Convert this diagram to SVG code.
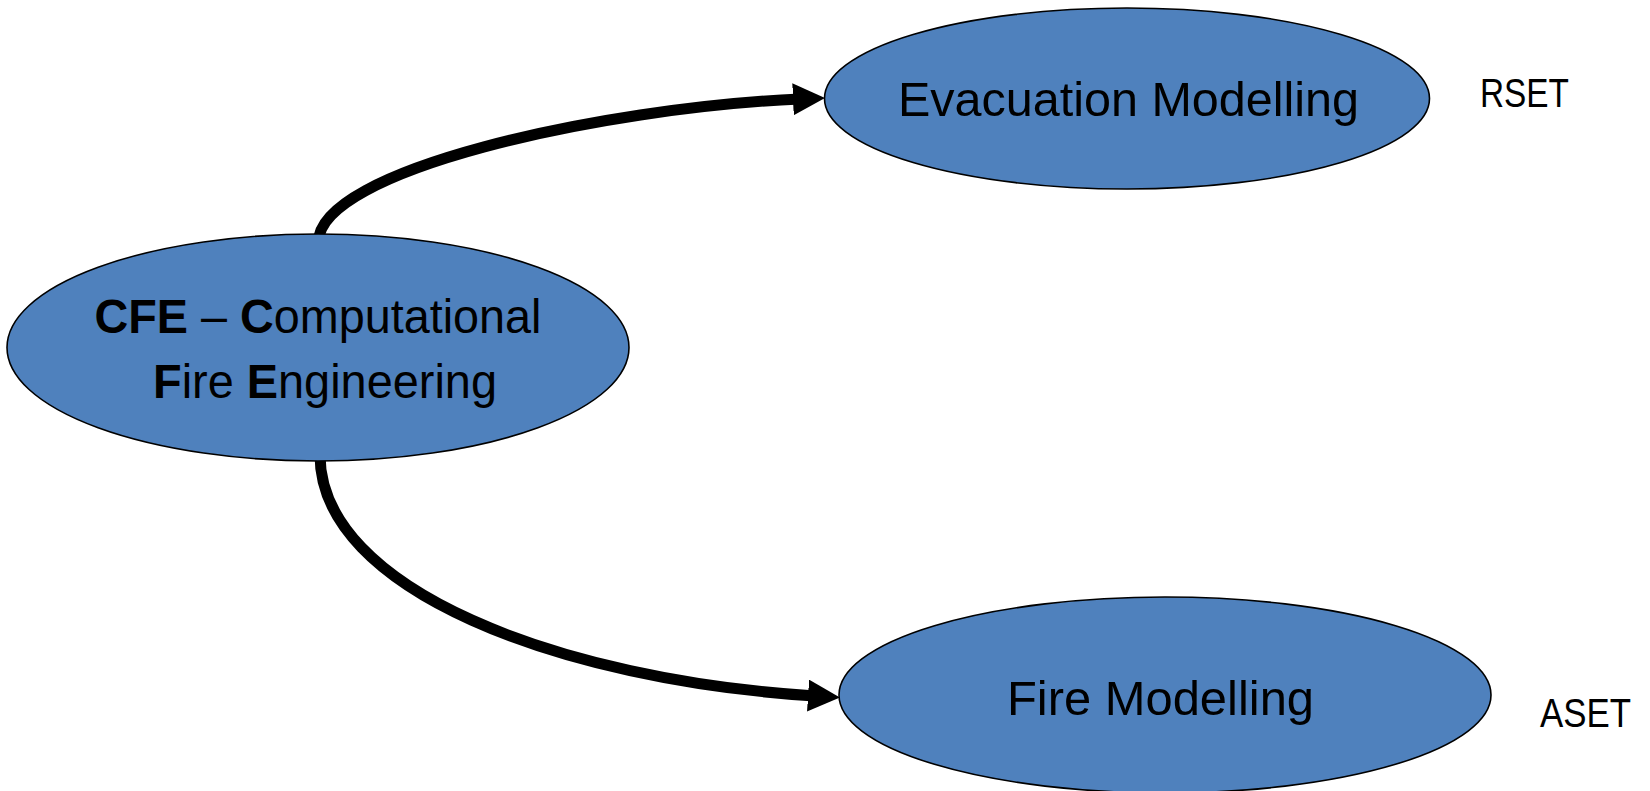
<svg xmlns="http://www.w3.org/2000/svg" width="1650" height="791" viewBox="0 0 1650 791">
<style>
.node{fill:#4F81BD;stroke:#000;stroke-width:1.6}
.lbl{font-family:"Liberation Sans",Arial,sans-serif;font-size:48px;fill:#000}
.side{font-family:"Liberation Sans",Arial,sans-serif;font-size:40px;fill:#000}
.b{font-weight:bold}
.conn{fill:none;stroke:#000;stroke-width:11}
</style>
<defs>
<marker id="arrow" markerUnits="userSpaceOnUse" markerWidth="34" markerHeight="33" refX="7" refY="16" orient="auto" viewBox="0 0 34 33">
<path d="M0,0 L32,16 L0,32 z" fill="#000"/>
</marker>
</defs>
<rect width="1650" height="791" fill="#fff"/>
<g id="connectors">
<path class="conn" d="M318.5,242 C318.5,170 600,108 800,99" marker-end="url(#arrow)"/>
<path class="conn" d="M320,455 C320,590 560,680 815,696" marker-end="url(#arrow)"/>
</g>
<g id="node-cfe">
<ellipse class="node" cx="318" cy="347.5" rx="311" ry="113.5"/>
<text class="lbl" x="94.5" y="333" textLength="447" lengthAdjust="spacingAndGlyphs"><tspan class="b">CFE</tspan> – <tspan class="b">C</tspan>omputational</text>
<text class="lbl" x="153" y="398" textLength="344" lengthAdjust="spacingAndGlyphs"><tspan class="b">F</tspan>ire <tspan class="b">E</tspan>ngineering</text>
</g>
<g id="node-evacuation">
<ellipse class="node" cx="1127" cy="98.5" rx="302.5" ry="90.5"/>
<text class="lbl" x="898" y="116" textLength="461" lengthAdjust="spacingAndGlyphs">Evacuation Modelling</text>
</g>
<g id="node-fire">
<ellipse class="node" cx="1165" cy="695" rx="326" ry="98"/>
<text class="lbl" x="1007" y="715" textLength="307" lengthAdjust="spacingAndGlyphs">Fire Modelling</text>
</g>
<g id="label-rset">
<text class="side" x="1480" y="107" textLength="89" lengthAdjust="spacingAndGlyphs">RSET</text>
</g>
<g id="label-aset">
<text class="side" x="1540" y="727" textLength="91" lengthAdjust="spacingAndGlyphs">ASET</text>
</g>
</svg>
